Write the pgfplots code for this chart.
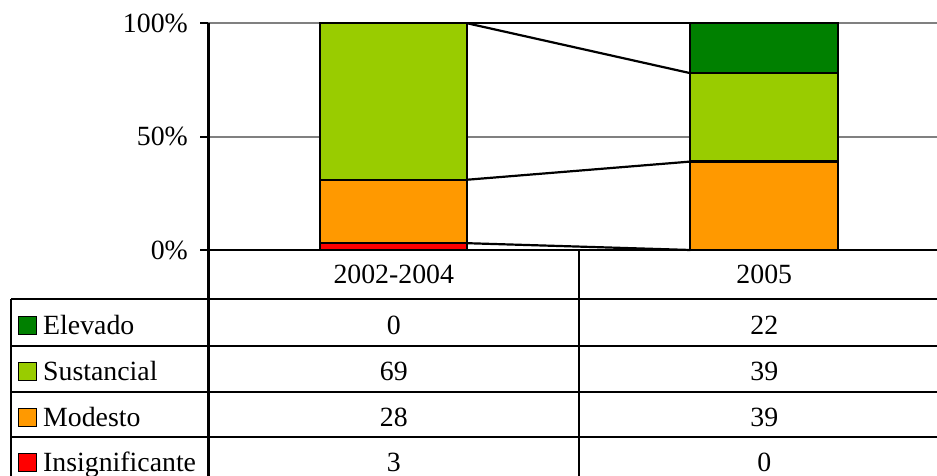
\documentclass[border=0pt]{standalone}
\usepackage{pgfplots}
\pgfplotsset{compat=1.18}
\usepackage{fontspec}
\setmainfont{Liberation Serif}
\definecolor{elev}{HTML}{008000}
\definecolor{sust}{HTML}{99CC00}
\definecolor{mod}{HTML}{FF9900}
\definecolor{insig}{HTML}{FF0000}
\newcommand{\bigf}{\fontsize{27.8pt}{33pt}\selectfont}
\begin{document}
\bigf
\begin{tikzpicture}[x=1pt,y=1pt]
\useasboundingbox (0,0) rectangle (937,476);
\clip (0,0) rectangle (937,476);
\begin{axis}[
  at={(208.3pt,226pt)}, anchor=south west, scale only axis,
  width=741pt, height=226.7pt,
  xmin=-0.5, xmax=1.5, ymin=0, ymax=100,
  ybar stacked, bar width=147.5pt,
  axis x line*=bottom, axis y line*=left,
  axis line style={-, line width=2.4pt, black},
  xtick=\empty, ytick={0,50,100}, yticklabels={0\%,50\%,100\%},
  tick align=outside, major tick length=8pt,
  tick style={black, line width=2.2pt},
  ymajorgrids, grid style={line width=2pt, color=gray},
  yticklabel style={font=\bigf, xshift=-3pt},
  clip=false,
]
\addplot[fill=insig, draw=black, line width=2.2pt] coordinates {(0,3) (1,0)};
\addplot[fill=mod, draw=black, line width=2.2pt] coordinates {(0,28) (1,39)};
\addplot[fill=sust, draw=black, line width=2.2pt] coordinates {(0,69) (1,39)};
\addplot[fill=elev, draw=black, line width=2.2pt] coordinates {(0,0) (1,22)};
\end{axis}
\begin{axis}[
  at={(208.3pt,226pt)}, anchor=south west, scale only axis,
  width=741pt, height=226.7pt,
  xmin=-0.5, xmax=1.5, ymin=0, ymax=100,
  hide axis, clip=false,
]
\addplot[black, line width=2.2pt, mark=none] coordinates {(0.199,3) (0.801,0)};
\addplot[black, line width=2.2pt, mark=none] coordinates {(0.199,31) (0.801,39)};
\addplot[black, line width=2.2pt, mark=none] coordinates {(0.199,100) (0.801,78)};
\addplot[black, line width=2.2pt, mark=none] coordinates {(0.199,100) (0.801,100)};
\end{axis}
% data table
\draw[line width=2.2pt] (11,177) -- (937,177);
\draw[line width=2.2pt] (11,130) -- (937,130);
\draw[line width=2.2pt] (11,84) -- (937,84);
\draw[line width=2.2pt] (11,39) -- (937,39);
\draw[line width=2.2pt] (11,177) -- (11,-5);
\draw[line width=2.4pt] (208.3,226) -- (208.3,-5);
\draw[line width=2.2pt] (579,226) -- (579,-5);
\node[anchor=base, inner sep=0] at (393.75,192) {2002-2004};
\node[anchor=base, inner sep=0] at (764.25,192) {2005};
\foreach \y/\a/\b/\lab/\col in {141/0/22/Elevado/elev, 95/69/39/Sustancial/sust, 49/28/39/Modesto/mod, 4/3/0/Insignificante/insig}{
  \filldraw[fill=\col, draw=black, line width=1.8pt] (18.5,\y+0.5) rectangle (36.5,\y+18.5);
  \node[anchor=base west, inner sep=0] at (43,\y) {\lab};
  \node[anchor=base, inner sep=0] at (393.75,\y) {\a};
  \node[anchor=base, inner sep=0] at (764.25,\y) {\b};
}
\end{tikzpicture}
\end{document}
